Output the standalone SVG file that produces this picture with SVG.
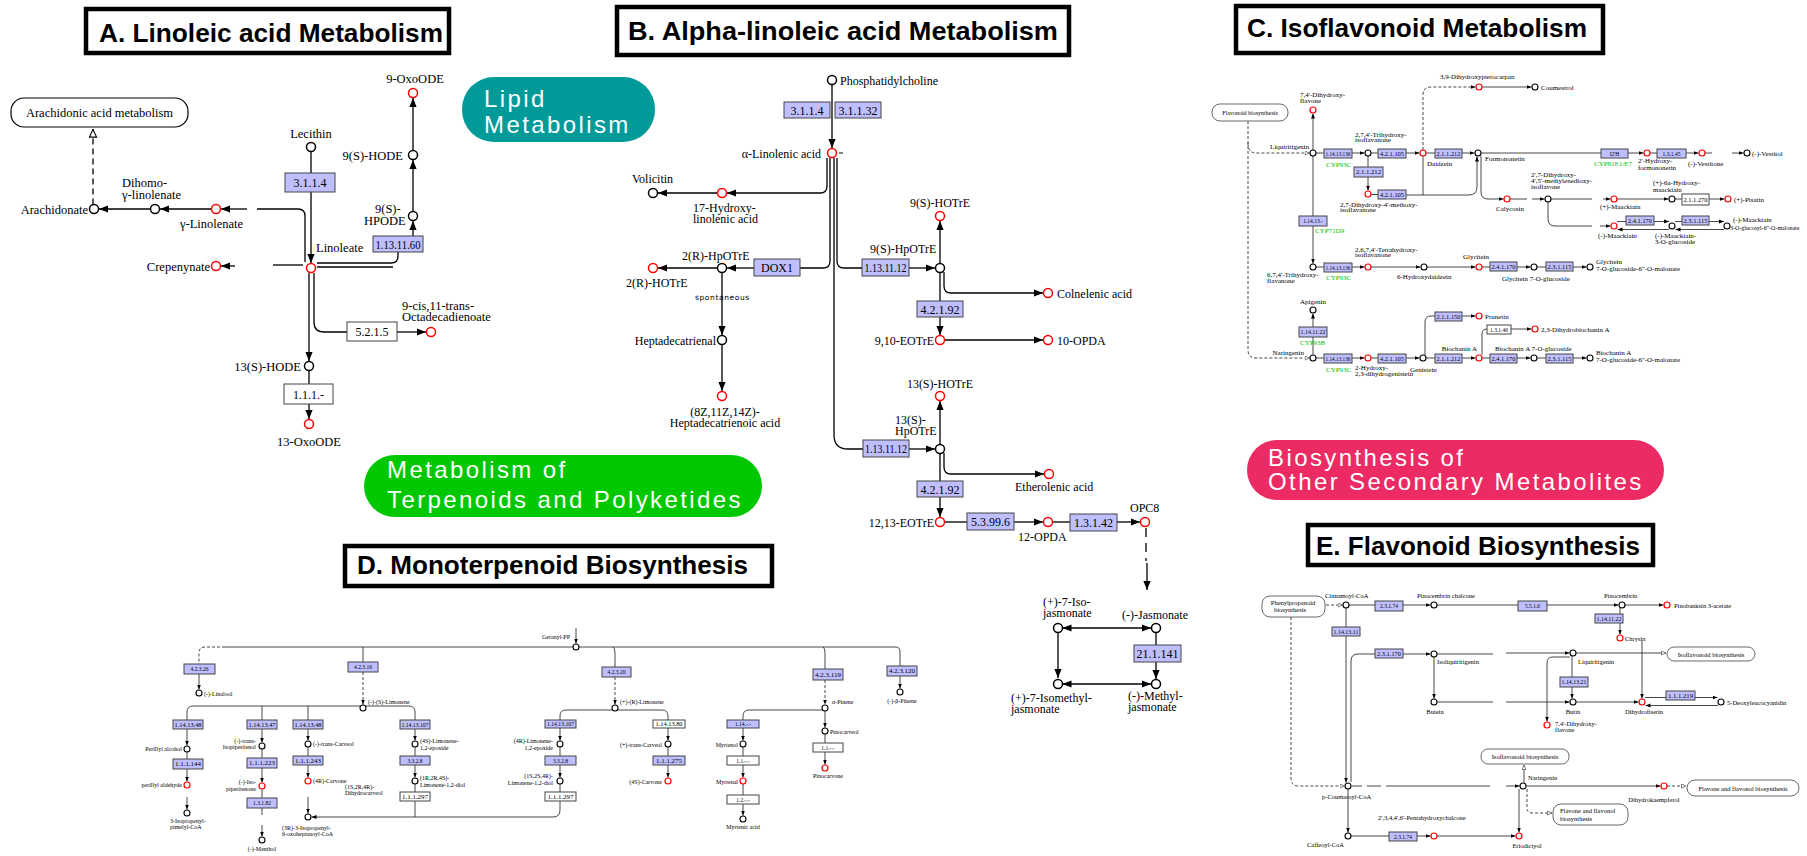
<svg xmlns="http://www.w3.org/2000/svg" width="1807" height="856" viewBox="0 0 1807 856">
<defs>
<style>
.ttl{fill:#fff;stroke:#000;stroke-width:4.5}
.tt{font-family:"Liberation Sans",Arial,sans-serif;font-weight:bold;font-size:25px;fill:#000}
.pl{font-family:"Liberation Sans",Arial,sans-serif;font-size:24px;fill:#fff;letter-spacing:2.4px}
.l{font-family:"Liberation Serif","Times New Roman",serif;fill:#000}
.a{font-size:12.5px}
.b{font-size:12px}
.c{font-size:7px}
.d{font-size:6px}
.e{font-size:6.5px}
.g{fill:#00c000}
.m{text-anchor:middle}
.r2{text-anchor:end}
.en{fill:#bfbfff;stroke:#444;stroke-width:1}
.ew{fill:#fff;stroke:#444;stroke-width:1}
.et{font-family:"Liberation Serif","Times New Roman",serif;text-anchor:middle;fill:#000}
.eb{font-size:12px}
.es{font-size:5.5px}
.k{fill:#fff;stroke:#000;stroke-width:1.5}
.r{fill:#fff;stroke:#f00;stroke-width:1.5}
.k2{fill:#fff;stroke:#000;stroke-width:1.1}
.r2c{fill:#fff;stroke:#f00;stroke-width:1.2}
.map{fill:#fff;stroke:#000;stroke-width:1.2}
.map2{fill:#fff;stroke:#444;stroke-width:0.8}
.cA path{fill:none;stroke:#000;stroke-width:1.3}
.cS path{fill:none;stroke:#333;stroke-width:0.9}
.dsh{stroke-dasharray:6 4}
.dss{stroke-dasharray:3 2}
.sp{font-family:"DejaVu Sans",sans-serif;font-size:7.5px;letter-spacing:0.6px;fill:#000}
</style>
<marker id="A" viewBox="0 0 10 8" refX="10" refY="4" markerWidth="9" markerHeight="8" markerUnits="userSpaceOnUse" orient="auto-start-reverse"><path d="M0,0L10,4L0,8z" fill="#000"/></marker>
<marker id="S" viewBox="0 0 10 8" refX="10" refY="4" markerWidth="5" markerHeight="4.5" markerUnits="userSpaceOnUse" orient="auto-start-reverse"><path d="M0,0L10,4L0,8z" fill="#000"/></marker>
<marker id="H" viewBox="0 0 10 10" refX="10" refY="5" markerWidth="9" markerHeight="9" markerUnits="userSpaceOnUse" orient="auto"><path d="M1,1L9.5,5L1,9z" fill="#fff" stroke="#000" stroke-width="1.2"/></marker>
<marker id="HS" viewBox="0 0 10 10" refX="10" refY="5" markerWidth="5" markerHeight="5" markerUnits="userSpaceOnUse" orient="auto"><path d="M1,1L9.5,5L1,9z" fill="#fff" stroke="#333" stroke-width="1.2"/></marker>
</defs>
<rect width="1807" height="856" fill="#fff"/>

<!-- ============ CONNECTORS ============ -->
<g id="connectors">
<g class="cA">
<!-- Panel A -->
<path class="dsh" d="M93,204.5V129" marker-end="url(#H)"/>
<path d="M150.5,209H99" marker-end="url(#A)"/>
<path d="M211.5,209H160" marker-end="url(#A)"/>
<path d="M247,209H221" marker-end="url(#A)"/>
<path d="M257,209H298Q305,209 305,216V262"/>
<path d="M311,151.5V173"/>
<path d="M311,192V263" marker-end="url(#A)"/>
<path d="M235,266H221" marker-end="url(#A)"/>
<path d="M273,265H303"/>
<path d="M317,263H391Q398,263 398,256V252"/>
<path d="M317,267H393"/>
<path d="M413,236V221" marker-end="url(#A)"/>
<path d="M413,211.5V160" marker-end="url(#A)"/>
<path d="M413,150.5V98" marker-end="url(#A)"/>
<path d="M309,273V361" marker-end="url(#A)"/>
<path d="M314,273V322Q314,332 324,332H347"/>
<path d="M397,332H426" marker-end="url(#A)"/>
<path d="M309,370.5V384"/>
<path d="M309,404V419" marker-end="url(#A)"/>
<!-- Panel B -->
<path d="M832,84.5V148" marker-end="url(#A)"/>
<path d="M827,158V186Q827,193 820,193H727" marker-end="url(#A)"/>
<path d="M717.5,193H658" marker-end="url(#A)"/>
<path d="M830,158V261Q830,268 823,268H800"/>
<path d="M754,268H727" marker-end="url(#A)"/>
<path d="M717.5,268H658" marker-end="url(#A)"/>
<path d="M722,272.5V335" marker-end="url(#A)"/>
<path d="M722,344.5V391" marker-end="url(#A)"/>
<path d="M834,158V435Q834,449 848,449H863"/>
<path d="M837,158V261Q837,268 844,268H862"/>
<path d="M909,268H935" marker-end="url(#A)"/>
<path d="M940,263.5V221" marker-end="url(#A)"/>
<path d="M940,272.5V301"/>
<path d="M940,317V335" marker-end="url(#A)"/>
<path d="M944,272V286Q944,293 951,293H1043" marker-end="url(#A)"/>
<path d="M944.5,340H1043" marker-end="url(#A)"/>
<path d="M909,449H935" marker-end="url(#A)"/>
<path d="M940,444.5V401" marker-end="url(#A)"/>
<path d="M940,453.5V481"/>
<path d="M940,497V517" marker-end="url(#A)"/>
<path d="M944,453V467Q944,474 951,474H1044" marker-end="url(#A)"/>
<path d="M944.5,522H967"/>
<path d="M1014,522H1043" marker-end="url(#A)"/>
<path d="M1052.5,522H1070"/>
<path d="M1117,522H1140" marker-end="url(#A)"/>
<path class="dsh" d="M1146,528V561" style="stroke-dasharray:9 6"/>
<path d="M1147,563V590" marker-end="url(#A)"/>
<path d="M1062.5,628H1151" marker-start="url(#A)" marker-end="url(#A)"/>
<path d="M1058,632.5V678" marker-end="url(#A)"/>
<path d="M1062.5,684H1151" marker-start="url(#A)" marker-end="url(#A)"/>
<path d="M1156,632.5V645"/>
<path d="M1156,662V679" marker-end="url(#A)"/>
</g>
<g class="cS">
<!-- Panel C -->
<path class="dss" d="M1248,121V350Q1248,358 1256,358H1309.5" marker-end="url(#HS)"/>
<path class="dss" d="M1248,143Q1248,153 1256,153H1309.5" marker-end="url(#HS)"/>
<path d="M1313,150V113.5" marker-end="url(#S)"/>
<path d="M1313,156V216"/>
<path d="M1313,226V263.5" marker-end="url(#S)"/>
<path d="M1316,153H1324"/>
<path d="M1352,153H1364.5" marker-end="url(#S)"/>
<path d="M1371,153H1378"/>
<path d="M1406,153H1419.5" marker-end="url(#S)"/>
<path d="M1368,156V167"/>
<path d="M1368,177V190.5" marker-end="url(#S)"/>
<path d="M1371,194.5H1378"/>
<path d="M1406,195H1469Q1477,195 1477,187V156.5" marker-end="url(#S)"/>
<path d="M1423,156V195"/>
<path class="dss" d="M1423,150V95Q1423,87 1431,87H1475.5" marker-end="url(#S)"/>
<path d="M1482,87H1531.5" marker-end="url(#S)"/>
<path d="M1426,153H1435"/>
<path d="M1462,153H1474.5" marker-end="url(#S)"/>
<path d="M1481,153H1601"/>
<path d="M1628,153H1643.5" marker-end="url(#S)"/>
<path d="M1650,153H1657"/>
<path d="M1686,153H1698.5" marker-end="url(#S)"/>
<path d="M1705,153H1712"/>
<path d="M1732,153H1743.5" marker-end="url(#S)"/>
<path d="M1481,156V192Q1481,199 1488,199H1503.5" marker-end="url(#S)"/>
<path d="M1510,199H1527"/>
<path d="M1532,199H1544.5" marker-end="url(#S)"/>
<path d="M1551,199H1592"/>
<path d="M1603,199H1610.5" marker-end="url(#S)"/>
<path d="M1617,199H1668.5" marker-end="url(#S)"/>
<path d="M1675,199H1682"/>
<path d="M1709,199H1724.5" marker-end="url(#S)"/>
<path d="M1548,202V219Q1548,226 1555,226H1592"/>
<path d="M1600,226H1610.5" marker-end="url(#S)"/>
<path d="M1617,221.5H1669" marker-end="url(#S)"/>
<path d="M1669,229.5H1617.5" marker-end="url(#S)"/>
<path d="M1675,221.5H1724" marker-end="url(#S)"/>
<path d="M1724,229.5H1675.5" marker-end="url(#S)"/>
<path d="M1316,267H1324"/>
<path d="M1352,267H1364.5" marker-end="url(#S)"/>
<path d="M1371,267H1420.5" marker-end="url(#S)"/>
<path d="M1427,267H1475.5" marker-end="url(#S)"/>
<path d="M1482,267H1490"/>
<path d="M1517,267H1530.5" marker-end="url(#S)"/>
<path d="M1537,267H1546"/>
<path d="M1573,267H1586.5" marker-end="url(#S)"/>
<path d="M1313,327V313.5" marker-end="url(#S)"/>
<path d="M1313,337V354.5"/>
<path d="M1316,358H1324"/>
<path d="M1352,358H1364.5" marker-end="url(#S)"/>
<path d="M1371,358H1378"/>
<path d="M1406,358H1419.5" marker-end="url(#S)"/>
<path d="M1425,355V322Q1425,316 1431,316H1435"/>
<path d="M1462,316H1475.5" marker-end="url(#S)"/>
<path d="M1426,358H1435"/>
<path d="M1462,358H1475.5" marker-end="url(#S)"/>
<path d="M1482,355V334Q1482,329 1487,329"/>
<path d="M1511,329H1531.5" marker-end="url(#S)"/>
<path d="M1482,358H1490"/>
<path d="M1517,358H1530.5" marker-end="url(#S)"/>
<path d="M1537,358H1546"/>
<path d="M1573,358H1586.5" marker-end="url(#S)"/>
<!-- Panel D -->
<path d="M225,647H896Q900,647 900,652V666"/>
<path class="dss" d="M225,647H205Q199,647 199,653V664"/>
<path d="M576,628V643.5" marker-end="url(#S)"/>
<path d="M199,674V689.5" marker-end="url(#S)"/>
<path d="M363,647V662"/>
<path class="dss" d="M363,672V704.5" marker-end="url(#S)"/>
<path d="M187,720V712Q187,706 193,706H409Q415,706 415,712V720"/>
<path d="M262,706V720"/>
<path d="M308,706V720"/>
<path d="M187,729V745.5" marker-end="url(#S)"/>
<path d="M187,752V759"/>
<path d="M187,769V781.5" marker-end="url(#S)"/>
<path d="M187,797V809.5" marker-end="url(#S)"/>
<path d="M262,729V742.5" marker-end="url(#S)"/>
<path d="M262,749V758"/>
<path d="M262,768V782.5" marker-end="url(#S)"/>
<path d="M262,789V798"/>
<path d="M262,808V815"/>
<path d="M262,825V836.5" marker-end="url(#S)"/>
<path d="M308,729V740.5" marker-end="url(#S)"/>
<path d="M308,747V756"/>
<path d="M308,765V777.5" marker-end="url(#S)"/>
<path d="M308,797V813.5" marker-end="url(#S)"/>
<path d="M560,801V810Q560,817 553,817H311.5" marker-end="url(#S)"/>
<path d="M415,729V740.5" marker-end="url(#S)"/>
<path d="M415,747V756"/>
<path d="M415,765V777.5" marker-end="url(#S)"/>
<path d="M415,784V792"/>
<path d="M415,801V817"/>
<path d="M613,647Q615,648 615,653V667"/>
<path class="dss" d="M615,677V704.5" marker-end="url(#S)"/>
<path d="M560,720V716Q560,710 566,710H662Q668,710 668,716V720"/>
<path d="M560,728V740.5" marker-end="url(#S)"/>
<path d="M560,747V756"/>
<path d="M560,765V777.5" marker-end="url(#S)"/>
<path d="M560,784V792"/>
<path d="M668,728V740.5" marker-end="url(#S)"/>
<path d="M668,747V756"/>
<path d="M668,765V777.5" marker-end="url(#S)"/>
<path d="M823,647Q825,648 825,653V669"/>
<path class="dss" d="M825,680V704.5" marker-end="url(#S)"/>
<path d="M743,720V716Q743,710 749,710H822"/>
<path d="M743,728V740.5" marker-end="url(#S)"/>
<path d="M743,747V756"/>
<path d="M743,765V777.5" marker-end="url(#S)"/>
<path d="M743,784V795"/>
<path d="M743,804V815.5" marker-end="url(#S)"/>
<path d="M825,711V727.5" marker-end="url(#S)"/>
<path d="M825,734V743"/>
<path d="M825,752V764.5" marker-end="url(#S)"/>
<path d="M900,676V688.5" marker-end="url(#S)"/>
<!-- Panel E -->
<path class="dss" d="M1326,605H1342.5" marker-end="url(#HS)"/>
<path d="M1349,605H1375"/>
<path d="M1403,605H1430.5" marker-end="url(#S)"/>
<path d="M1437,605H1518"/>
<path d="M1547,605H1618.5" marker-end="url(#S)"/>
<path d="M1625,605H1663.5" marker-end="url(#S)"/>
<path d="M1620,608V614"/>
<path d="M1620,623V634.5" marker-end="url(#S)"/>
<path d="M1642,641V698.5" marker-end="url(#S)"/>
<path d="M1346,608V627"/>
<path d="M1346,636V782.5" marker-end="url(#S)"/>
<path d="M1351,782V661Q1351,654 1358,654H1375"/>
<path d="M1403,654H1430.5" marker-end="url(#S)"/>
<path d="M1437,654H1493"/>
<path d="M1506,653H1569.5" marker-end="url(#S)"/>
<path d="M1576,653H1666" marker-end="url(#HS)"/>
<path d="M1434,657V698.5" marker-end="url(#S)"/>
<path d="M1437,702H1493"/>
<path d="M1506,702H1569.5" marker-end="url(#S)"/>
<path d="M1572,656V677"/>
<path d="M1572,687V698.5" marker-end="url(#S)"/>
<path d="M1570,657H1553Q1547,657 1547,663V721.5" marker-end="url(#S)"/>
<path d="M1576,702H1638.5" marker-end="url(#S)"/>
<path d="M1645,697.5H1666"/>
<path d="M1695,697.5H1717.5" marker-end="url(#S)"/>
<path d="M1718,705.5H1645.5" marker-end="url(#S)"/>
<path d="M1524,782.5V765" marker-end="url(#HS)"/>
<path d="M1352,786H1362M1367,786H1381M1386,786H1490"/>
<path d="M1506,786H1519.5" marker-end="url(#S)"/>
<path d="M1526.5,786H1660.5" marker-end="url(#S)"/>
<path class="dss" d="M1667,786H1686" marker-end="url(#HS)"/>
<path class="dss" d="M1527,789V808Q1527,813 1532,813H1552" marker-end="url(#HS)"/>
<path d="M1519,789V832.5" marker-end="url(#S)"/>
<path class="dss" d="M1291,617V778Q1291,786 1299,786H1344.5" marker-end="url(#HS)"/>
<path d="M1348,789V832.5" marker-end="url(#S)"/>
<path d="M1351,836H1389"/>
<path d="M1417,836H1430.5" marker-end="url(#S)"/>
<path d="M1437,836H1515.5" marker-end="url(#S)"/>
</g>
</g>

<!-- ============ TITLES & CATEGORY PILLS ============ -->
<g id="titleA"><rect class="ttl" x="86" y="9" width="363" height="44"/><text class="tt" x="99" y="42" textLength="344" lengthAdjust="spacingAndGlyphs">A. Linoleic acid Metabolism</text></g>
<g id="titleB"><rect class="ttl" x="617" y="7" width="452" height="48"/><text class="tt" x="628" y="40" textLength="430" lengthAdjust="spacingAndGlyphs">B. Alpha-linoleic acid Metabolism</text></g>
<g id="titleC"><rect class="ttl" x="1236" y="6" width="367" height="47"/><text class="tt" x="1247" y="37" textLength="340" lengthAdjust="spacingAndGlyphs">C. Isoflavonoid Metabolism</text></g>
<g id="titleD"><rect class="ttl" x="345" y="546" width="427" height="40"/><text class="tt" x="357" y="574" textLength="391" lengthAdjust="spacingAndGlyphs">D. Monoterpenoid Biosynthesis</text></g>
<g id="titleE"><rect class="ttl" x="1308" y="525" width="345" height="40"/><text class="tt" x="1316" y="555" textLength="324" lengthAdjust="spacingAndGlyphs">E. Flavonoid Biosynthesis</text></g>
<g id="pill-lipid"><rect x="462" y="77" width="193" height="65" rx="32" fill="#009a99"/><text class="pl" x="484" y="107">Lipid</text><text class="pl" x="484" y="133">Metabolism</text></g>
<g id="pill-terpenoid"><rect x="364" y="455" width="398" height="62" rx="31" fill="#00c800"/><text class="pl" x="387" y="478">Metabolism of</text><text class="pl" x="387" y="508">Terpenoids and Polyketides</text></g>
<g id="pill-secondary"><rect x="1247" y="440" width="417" height="60" rx="30" fill="#ec2a63"/><text class="pl" x="1268" y="466">Biosynthesis of</text><text class="pl" x="1268" y="490">Other Secondary Metabolites</text></g>

<!-- ============ PANEL A NODES ============ -->
<g id="a-map-arachidonic"><rect class="map" x="11" y="98" width="177" height="29" rx="13"/><text class="l a m" x="99.5" y="117">Arachidonic acid metabolism</text></g>
<g id="a-arachidonate"><circle class="k" cx="94" cy="209" r="4.5"/><text class="l a r2" x="88" y="214">Arachidonate</text></g>
<g id="a-dihomo"><circle class="k" cx="155" cy="209" r="4.5"/><text class="l a" x="122" y="187">Dihomo-</text><text class="l a" x="122" y="199">γ-linolenate</text></g>
<g id="a-glinolenate"><circle class="r" cx="216" cy="209" r="4.5"/><text class="l a" x="180" y="228">γ-Linolenate</text></g>
<g id="a-lecithin"><circle class="k" cx="311" cy="147" r="4.5"/><text class="l a m" x="311" y="138">Lecithin</text></g>
<g id="a-e3114"><rect class="en" x="285" y="173" width="50" height="19"/><text class="et eb" x="310" y="187">3.1.1.4</text></g>
<g id="a-linoleate"><circle class="r" cx="311" cy="268" r="4.5"/><text class="l a" x="316" y="252">Linoleate</text></g>
<g id="a-crepenynate"><circle class="r" cx="216" cy="266" r="4.5"/><text class="l a r2" x="210" y="271">Crepenynate</text></g>
<g id="a-e1131160"><rect class="en" x="373" y="236" width="50" height="16"/><text class="et eb" x="398" y="248.5" textLength="45" lengthAdjust="spacingAndGlyphs">1.13.11.60</text></g>
<g id="a-9shpode"><circle class="k" cx="413" cy="216" r="4.5"/><text class="l a" x="375" y="213">9(S)-</text><text class="l a" x="364" y="225">HPODE</text></g>
<g id="a-9shode"><circle class="k" cx="413" cy="155" r="4.5"/><text class="l a r2" x="403" y="160">9(S)-HODE</text></g>
<g id="a-9oxoode"><circle class="r" cx="413" cy="93" r="4.5"/><text class="l a m" x="415" y="83">9-OxoODE</text></g>
<g id="a-e5215"><rect class="ew" x="347" y="322" width="50" height="19"/><text class="et eb" x="372" y="336">5.2.1.5</text></g>
<g id="a-octadecadienoate"><circle class="r" cx="431" cy="332" r="4.5"/><text class="l a" x="402" y="310">9-cis,11-trans-</text><text class="l a" x="402" y="321">Octadecadienoate</text></g>
<g id="a-13shode"><circle class="k" cx="309" cy="366" r="4.5"/><text class="l a r2" x="301" y="371">13(S)-HODE</text></g>
<g id="a-e111"><rect class="ew" x="284" y="384" width="49" height="20"/><text class="et eb" x="308.5" y="398.5">1.1.1.-</text></g>
<g id="a-13oxoode"><circle class="r" cx="309" cy="424" r="4.5"/><text class="l a m" x="309" y="446">13-OxoODE</text></g>

<!-- ============ PANEL B NODES ============ -->
<g id="b-pc"><circle class="k" cx="832" cy="80" r="4.5"/><text class="l b" x="840" y="85">Phosphatidylcholine</text></g>
<g id="b-e3114"><rect class="en" x="784" y="102" width="46" height="16"/><text class="et eb" x="807" y="114.5">3.1.1.4</text></g>
<g id="b-e31132"><rect class="en" x="835" y="102" width="46" height="16"/><text class="et eb" x="858" y="114.5">3.1.1.32</text></g>
<g id="b-ala"><circle class="r" cx="832" cy="153" r="4.5"/><text class="l b r2" x="821" y="158">α-Linolenic acid</text><path d="M839,153H843" stroke="#000" stroke-width="1"/></g>
<g id="b-17h"><circle class="r" cx="722" cy="193" r="4.5"/><text class="l b" x="693" y="212">17-Hydroxy-</text><text class="l b" x="693" y="223">linolenic acid</text></g>
<g id="b-volicitin"><circle class="k" cx="653" cy="193" r="4.5"/><text class="l b" x="632" y="183">Volicitin</text></g>
<g id="b-dox1"><rect class="en" x="754" y="259" width="46" height="17"/><text class="et eb" x="777" y="272">DOX1</text></g>
<g id="b-2rhpotre"><circle class="k" cx="722" cy="268" r="4.5"/><text class="l b" x="682" y="260">2(R)-HpOTrE</text></g>
<g id="b-2rhotre"><circle class="r" cx="653" cy="268" r="4.5"/><text class="l b" x="626" y="287">2(R)-HOTrE</text></g>
<g id="b-spontaneous"><text class="sp" x="695" y="300">spontaneous</text></g>
<g id="b-heptadecatrienal"><circle class="k" cx="722" cy="340" r="4.5"/><text class="l b r2" x="716" y="345">Heptadecatrienal</text></g>
<g id="b-heptadecatrienoic"><circle class="r" cx="722" cy="396" r="4.5"/><text class="l b m" x="725" y="416">(8Z,11Z,14Z)-</text><text class="l b m" x="725" y="427">Heptadecatrienoic acid</text></g>
<g id="b-e1131112a"><rect class="en" x="862" y="259" width="47" height="17"/><text class="et eb" x="885.5" y="272" textLength="42" lengthAdjust="spacingAndGlyphs">1.13.11.12</text></g>
<g id="b-9shpotre"><circle class="k" cx="940" cy="268" r="4.5"/><text class="l b" x="870" y="253">9(S)-HpOTrE</text></g>
<g id="b-9shotre"><circle class="r" cx="940" cy="216" r="4.5"/><text class="l b m" x="940" y="207">9(S)-HOTrE</text></g>
<g id="b-e42192a"><rect class="en" x="917" y="301" width="46" height="16"/><text class="et eb" x="940" y="313.5">4.2.1.92</text></g>
<g id="b-910eotre"><circle class="r" cx="940" cy="340" r="4.5"/><text class="l b r2" x="934" y="345">9,10-EOTrE</text></g>
<g id="b-colnelenic"><circle class="r" cx="1048" cy="293" r="4.5"/><text class="l b" x="1057" y="298">Colnelenic acid</text></g>
<g id="b-10opda"><circle class="r" cx="1048" cy="340" r="4.5"/><text class="l b" x="1057" y="345">10-OPDA</text></g>
<g id="b-e1131112b"><rect class="en" x="863" y="440" width="46" height="17"/><text class="et eb" x="886" y="453" textLength="42" lengthAdjust="spacingAndGlyphs">1.13.11.12</text></g>
<g id="b-13shpotre"><circle class="k" cx="940" cy="449" r="4.5"/><text class="l b" x="895" y="424">13(S)-</text><text class="l b" x="895" y="435">HpOTrE</text></g>
<g id="b-13shotre"><circle class="r" cx="940" cy="396" r="4.5"/><text class="l b m" x="940" y="388">13(S)-HOTrE</text></g>
<g id="b-e42192b"><rect class="en" x="917" y="481" width="46" height="16"/><text class="et eb" x="940" y="493.5">4.2.1.92</text></g>
<g id="b-1213eotre"><circle class="r" cx="940" cy="522" r="4.5"/><text class="l b r2" x="934" y="527">12,13-EOTrE</text></g>
<g id="b-etherolenic"><circle class="r" cx="1049" cy="474" r="4.5"/><text class="l b" x="1015" y="491">Etherolenic acid</text></g>
<g id="b-e53996"><rect class="en" x="967" y="513" width="47" height="17"/><text class="et eb" x="990.5" y="526">5.3.99.6</text></g>
<g id="b-12opda"><circle class="r" cx="1048" cy="522" r="4.5"/><text class="l b" x="1018" y="541">12-OPDA</text></g>
<g id="b-e13142"><rect class="en" x="1070" y="514" width="47" height="17"/><text class="et eb" x="1093.5" y="527">1.3.1.42</text></g>
<g id="b-opc8"><circle class="r" cx="1145" cy="522" r="4.5"/><text class="l b" x="1130" y="512">OPC8</text></g>
<g id="b-jasmonate"><circle class="k" cx="1156" cy="628" r="4.5"/><text class="l b m" x="1155" y="619">(-)-Jasmonate</text></g>
<g id="b-e211141"><rect class="en" x="1134" y="645" width="47" height="17"/><text class="et eb" x="1157.5" y="658">21.1.141</text></g>
<g id="b-mejasmonate"><circle class="k" cx="1156" cy="684" r="4.5"/><text class="l b" x="1128" y="700">(-)-Methyl-</text><text class="l b" x="1128" y="711">jasmonate</text></g>
<g id="b-isojasmonate"><circle class="k" cx="1058" cy="628" r="4.5"/><text class="l b" x="1043" y="606">(+)-7-Iso-</text><text class="l b" x="1043" y="617">jasmonate</text></g>
<g id="b-isomejasmonate"><circle class="k" cx="1058" cy="684" r="4.5"/><text class="l b" x="1011" y="702">(+)-7-Isomethyl-</text><text class="l b" x="1011" y="713">jasmonate</text></g>

<!-- ============ PANEL C NODES ============ -->
<g id="c-map-flavonoid"><rect class="map2" x="1212" y="104" width="76" height="17" rx="8"/><text class="l d m" x="1250" y="115">Flavonoid biosynthesis</text></g>
<g id="c-liquiritigenin"><circle class="k2" cx="1313" cy="153" r="3"/><text class="l c r2" x="1309" y="149">Liquiritigenin</text></g>
<g id="c-74dhf"><circle class="r2c" cx="1313" cy="110" r="3"/><text class="l c" x="1300" y="97">7,4'-Dihydroxy-</text><text class="l c" x="1300" y="103">flavone</text></g>
<g id="c-e11413136a"><rect class="en" x="1324" y="149" width="28" height="9"/><text class="et es" x="1338" y="155.5" textLength="25" lengthAdjust="spacingAndGlyphs">1.14.13.136</text><text class="l c g" x="1326" y="167">CYP93C</text></g>
<g id="c-274thi"><circle class="k2" cx="1368" cy="153" r="3"/><text class="l c" x="1355" y="137">2,7,4'-Trihydroxy-</text><text class="l c" x="1355" y="142">isoflavanone</text></g>
<g id="c-e421105a"><rect class="en" x="1378" y="149" width="28" height="9"/><text class="et es" x="1392" y="155.5" textLength="24" lengthAdjust="spacingAndGlyphs">4.2.1.105</text></g>
<g id="c-daidzein"><circle class="r2c" cx="1423" cy="153" r="3"/><text class="l c" x="1427" y="166">Daidzein</text></g>
<g id="c-e211212a"><rect class="en" x="1354" y="167" width="29" height="10"/><text class="et es" x="1368.5" y="174" textLength="25" lengthAdjust="spacingAndGlyphs">2.1.1.212</text></g>
<g id="c-27d4m"><circle class="r2c" cx="1368" cy="194" r="3"/><text class="l c" x="1340" y="207">2,7-Dihydroxy-4'-methoxy-</text><text class="l c" x="1340" y="212">isoflavanone</text></g>
<g id="c-e421105b"><rect class="en" x="1378" y="190" width="28" height="9"/><text class="et es" x="1392" y="196.5" textLength="24" lengthAdjust="spacingAndGlyphs">4.2.1.105</text></g>
<g id="c-e11413"><rect class="en" x="1299" y="216" width="28" height="10"/><text class="et es" x="1313" y="223">1.14.13.-</text><text class="l c g" x="1315" y="233">CYP71D9</text></g>
<g id="c-formononetin"><circle class="k2" cx="1478" cy="153" r="3"/><text class="l c" x="1485" y="161">Formononetin</text></g>
<g id="c-39dhp"><circle class="r2c" cx="1479" cy="87" r="3"/><text class="l c" x="1440" y="79">3,9-Dihydroxypterocarpan</text></g>
<g id="c-coumestrol"><circle class="k2" cx="1535" cy="87" r="3"/><text class="l c" x="1541" y="90">Coumestrol</text></g>
<g id="c-e211212b"><rect class="en" x="1435" y="149" width="27" height="9"/><text class="et es" x="1448.5" y="155.5" textLength="24" lengthAdjust="spacingAndGlyphs">2.1.1.212</text></g>
<g id="c-ei2h"><rect class="en" x="1601" y="149" width="27" height="9"/><text class="et es" x="1614.5" y="155.5">I2'H</text><text class="l c g" x="1594" y="166">CYP81E1/E7</text></g>
<g id="c-2hf"><circle class="r2c" cx="1647" cy="153" r="3"/><text class="l c" x="1638" y="163">2'-Hydroxy-</text><text class="l c" x="1638" y="170">formononetin</text></g>
<g id="c-e13145"><rect class="en" x="1657" y="149" width="29" height="9"/><text class="et es" x="1671.5" y="155.5">1.3.1.45</text></g>
<g id="c-vestitone"><circle class="r2c" cx="1702" cy="153" r="3"/><text class="l c" x="1688" y="166">(-)-Vestitone</text></g>
<g id="c-vestitol"><circle class="k2" cx="1747" cy="153" r="3"/><text class="l c" x="1752" y="156">(-)-Vestitol</text></g>
<g id="c-calycosin"><circle class="r2c" cx="1507" cy="199" r="3"/><text class="l c" x="1496" y="211">Calycosin</text></g>
<g id="c-27dmi"><circle class="k2" cx="1548" cy="199" r="3"/><text class="l c" x="1531" y="177">2',7-Dihydroxy-</text><text class="l c" x="1531" y="183">4',5'-methylenedioxy-</text><text class="l c" x="1531" y="189">isoflavone</text></g>
<g id="c-pmaackiain"><circle class="r2c" cx="1614" cy="199" r="3"/><text class="l c" x="1600" y="209">(+)-Maackiain</text></g>
<g id="c-6ahm"><circle class="k2" cx="1672" cy="199" r="3"/><text class="l c" x="1653" y="185">(+)-6a-Hydroxy-</text><text class="l c" x="1653" y="192">maackiain</text></g>
<g id="c-e211270"><rect class="ew" x="1682" y="194" width="27" height="11"/><text class="et es" x="1695.5" y="201.5" textLength="24" lengthAdjust="spacingAndGlyphs">2.1.1.270</text></g>
<g id="c-pisatin"><circle class="r2c" cx="1728" cy="199" r="3"/><text class="l c" x="1734" y="202">(+)-Pisatin</text></g>
<g id="c-mmaackiain"><circle class="r2c" cx="1614" cy="226" r="3"/><text class="l c" x="1598" y="238">(-)-Maackiain</text></g>
<g id="c-e241170a"><rect class="en" x="1626" y="216" width="28" height="9"/><text class="et es" x="1640" y="222.5" textLength="24" lengthAdjust="spacingAndGlyphs">2.4.1.170</text></g>
<g id="c-mmg"><circle class="k2" cx="1672" cy="226" r="3"/><text class="l c" x="1655" y="238">(-)-Maackiain-</text><text class="l c" x="1655" y="244">3-O-glucoside</text></g>
<g id="c-e231115a"><rect class="en" x="1682" y="216" width="27" height="9"/><text class="et es" x="1695.5" y="222.5" textLength="24" lengthAdjust="spacingAndGlyphs">2.3.1.115</text></g>
<g id="c-mmgm"><circle class="k2" cx="1727" cy="226" r="3"/><text class="l c" x="1733" y="222">(-)-Maackiain</text><text class="l d" x="1730" y="230">3-O-glucosyl-6"-O-malonate</text></g>
<g id="c-674thf"><circle class="k2" cx="1313" cy="267" r="3"/><text class="l c" x="1267" y="277">6,7,4'-Trihydroxy-</text><text class="l c" x="1267" y="283">flavanone</text></g>
<g id="c-e11413136b"><rect class="en" x="1324" y="263" width="28" height="9"/><text class="et es" x="1338" y="269.5" textLength="25" lengthAdjust="spacingAndGlyphs">1.14.13.136</text><text class="l c g" x="1326" y="280">CYP93C</text></g>
<g id="c-2674thi"><circle class="r2c" cx="1368" cy="267" r="3"/><text class="l c" x="1355" y="252">2,6,7,4'-Tetrahydroxy-</text><text class="l c" x="1355" y="257">isoflavanone</text></g>
<g id="c-6hdaidzein"><circle class="k2" cx="1424" cy="267" r="3"/><text class="l c" x="1397" y="279">6-Hydroxydaidzein</text></g>
<g id="c-glycitein"><circle class="r2c" cx="1479" cy="267" r="3"/><text class="l c" x="1463" y="259">Glycitein</text></g>
<g id="c-e241170b"><rect class="en" x="1490" y="262" width="27" height="9"/><text class="et es" x="1503.5" y="268.5" textLength="24" lengthAdjust="spacingAndGlyphs">2.4.1.170</text></g>
<g id="c-glyc7g"><circle class="k2" cx="1534" cy="267" r="3"/><text class="l c" x="1502" y="281">Glycitein 7-O-glucoside</text></g>
<g id="c-e231115b"><rect class="en" x="1546" y="262" width="27" height="9"/><text class="et es" x="1559.5" y="268.5" textLength="24" lengthAdjust="spacingAndGlyphs">2.3.1.115</text></g>
<g id="c-glyc7gm"><circle class="k2" cx="1590" cy="267" r="3"/><text class="l c" x="1596" y="264">Glycitein</text><text class="l c" x="1596" y="271">7-O-glucoside-6"-O-malonate</text></g>
<g id="c-apigenin"><circle class="k2" cx="1313" cy="310" r="3"/><text class="l c m" x="1313" y="304">Apigenin</text></g>
<g id="c-e1141122"><rect class="en" x="1299" y="327" width="28" height="10"/><text class="et es" x="1313" y="334" textLength="25" lengthAdjust="spacingAndGlyphs">1.14.11.22</text><text class="l c g" x="1300" y="345">CYP93B</text></g>
<g id="c-naringenin"><circle class="k2" cx="1313" cy="358" r="3"/><text class="l c r2" x="1304" y="355">Naringenin</text></g>
<g id="c-e11413136c"><rect class="en" x="1324" y="354" width="28" height="9"/><text class="et es" x="1338" y="360.5" textLength="25" lengthAdjust="spacingAndGlyphs">1.14.13.136</text><text class="l c g" x="1326" y="372">CYP93C</text></g>
<g id="c-2hdg"><circle class="r2c" cx="1368" cy="358" r="3"/><text class="l c" x="1355" y="370">2-Hydroxy-</text><text class="l c" x="1355" y="376">2,3-dihydrogenistein</text></g>
<g id="c-e421105c"><rect class="en" x="1378" y="354" width="28" height="9"/><text class="et es" x="1392" y="360.5" textLength="24" lengthAdjust="spacingAndGlyphs">4.2.1.105</text></g>
<g id="c-genistein"><circle class="k2" cx="1423" cy="358" r="3"/><text class="l c" x="1410" y="372">Genistein</text></g>
<g id="c-e211150"><rect class="en" x="1435" y="312" width="27" height="9"/><text class="et es" x="1448.5" y="318.5" textLength="24" lengthAdjust="spacingAndGlyphs">2.1.1.150</text></g>
<g id="c-prunetin"><circle class="r2c" cx="1479" cy="316" r="3"/><text class="l c" x="1485" y="319">Prunetin</text></g>
<g id="c-e211212c"><rect class="en" x="1435" y="354" width="27" height="9"/><text class="et es" x="1448.5" y="360.5" textLength="24" lengthAdjust="spacingAndGlyphs">2.1.1.212</text></g>
<g id="c-biochanina"><circle class="r2c" cx="1479" cy="358" r="3"/><text class="l c r2" x="1477" y="351">Biochanin A</text></g>
<g id="c-e13146"><rect class="ew" x="1487" y="325" width="24" height="9"/><text class="et es" x="1499" y="331.5">1.3.1.46</text></g>
<g id="c-dhbiochanin"><circle class="r2c" cx="1535" cy="329" r="3"/><text class="l c" x="1541" y="332">2,3-Dihydrobiochanin A</text></g>
<g id="c-e241170c"><rect class="en" x="1490" y="354" width="27" height="9"/><text class="et es" x="1503.5" y="360.5" textLength="24" lengthAdjust="spacingAndGlyphs">2.4.1.170</text></g>
<g id="c-bio7g"><circle class="k2" cx="1534" cy="358" r="3"/><text class="l c" x="1495" y="351">Biochanin A 7-O-glucoside</text></g>
<g id="c-e231115c"><rect class="en" x="1546" y="354" width="27" height="9"/><text class="et es" x="1559.5" y="360.5" textLength="24" lengthAdjust="spacingAndGlyphs">2.3.1.115</text></g>
<g id="c-bio7gm"><circle class="k2" cx="1590" cy="358" r="3"/><text class="l c" x="1596" y="355">Biochanin A</text><text class="l c" x="1596" y="362">7-O-glucoside-6"-O-malonate</text></g>

<!-- ============ PANEL D NODES ============ -->
<g id="d-geranylpp"><circle class="k2" cx="576" cy="647" r="3"/><text class="l d r2" x="570" y="639">Geranyl-PP</text></g>
<g id="d-e42326"><rect class="en" x="184" y="664" width="31" height="10"/><text class="et es" x="199.5" y="671">4.2.3.26</text></g>
<g id="d-linalool"><circle class="k2" cx="199" cy="693" r="3"/><text class="l d" x="204" y="696">(-)-Linalool</text></g>
<g id="d-e42316"><rect class="en" x="348" y="662" width="30" height="10"/><text class="et es" x="363" y="669">4.2.3.16</text></g>
<g id="d-slimonene"><circle class="k2" cx="363" cy="708" r="3"/><text class="l d" x="368" y="704">(-)-(S)-Limonene</text></g>
<g id="d-e1141348a"><rect class="en" x="173" y="720" width="30" height="9"/><text class="et es" x="188" y="726.5" textLength="27" lengthAdjust="spacingAndGlyphs">1.14.13.48</text></g>
<g id="d-perillylalc"><circle class="k2" cx="187" cy="749" r="3"/><text class="l d r2" x="182" y="751">Perillyl alcohol</text></g>
<g id="d-e111144"><rect class="en" x="173" y="759" width="30" height="10"/><text class="et es" x="188" y="766" textLength="26" lengthAdjust="spacingAndGlyphs">1.1.1.144</text></g>
<g id="d-perillylald"><circle class="r2c" cx="187" cy="785" r="3"/><text class="l d r2" x="182" y="787">perillyl aldehyde</text></g>
<g id="d-ippcoa"><circle class="k2" cx="187" cy="813" r="3"/><text class="l d" x="170" y="823">3-Isopropenyl-</text><text class="l d" x="170" y="829">pimelyl-CoA</text></g>
<g id="d-e1141347"><rect class="en" x="247" y="720" width="30" height="9"/><text class="et es" x="262" y="726.5" textLength="27" lengthAdjust="spacingAndGlyphs">1.14.13.47</text></g>
<g id="d-isopiperitenol"><circle class="k2" cx="262" cy="746" r="3"/><text class="l d r2" x="256" y="743">(-)-trans-</text><text class="l d r2" x="256" y="749">Isopiperitenol</text></g>
<g id="d-e111223"><rect class="en" x="247" y="758" width="30" height="10"/><text class="et es" x="262" y="765" textLength="26" lengthAdjust="spacingAndGlyphs">1.1.1.223</text></g>
<g id="d-isopiperitenone"><circle class="r2c" cx="262" cy="786" r="3"/><text class="l d r2" x="256" y="784">(-)-Iso-</text><text class="l d r2" x="256" y="791">piperitenone</text></g>
<g id="d-e13182"><rect class="en" x="247" y="798" width="30" height="10"/><text class="et es" x="262" y="805">1.3.1.82</text></g>
<g id="d-menthol"><circle class="k2" cx="262" cy="840" r="3"/><text class="l d m" x="262" y="851">(-)-Menthol</text></g>
<g id="d-e1141348b"><rect class="en" x="293" y="720" width="30" height="9"/><text class="et es" x="308" y="726.5" textLength="27" lengthAdjust="spacingAndGlyphs">1.14.13.48</text></g>
<g id="d-tcarveol"><circle class="k2" cx="308" cy="744" r="3"/><text class="l d" x="313" y="746">(-)-trans-Carveol</text></g>
<g id="d-e111243"><rect class="en" x="293" y="756" width="30" height="9"/><text class="et es" x="308" y="762.5" textLength="26" lengthAdjust="spacingAndGlyphs">1.1.1.243</text></g>
<g id="d-4rcarvone"><circle class="r2c" cx="308" cy="781" r="3"/><text class="l d" x="313" y="783">(4R)-Carvone</text></g>
<g id="d-ioxcoa"><circle class="k2" cx="308" cy="817" r="3"/><text class="l d" x="282" y="830">(3R)-3-Isopropenyl-</text><text class="l d" x="282" y="836">6-oxoheptanoyl-CoA</text></g>
<g id="d-dihydrocarveol"><text class="l d" x="345" y="789">(1S,2R,4R)-</text><text class="l d" x="345" y="795">Dihydrocarveol</text></g>
<g id="d-e11413107a"><rect class="en" x="400" y="720" width="30" height="9"/><text class="et es" x="415" y="726.5" textLength="27" lengthAdjust="spacingAndGlyphs">1.14.13.107</text></g>
<g id="d-4slepox"><circle class="k2" cx="415" cy="744" r="3"/><text class="l d" x="420" y="743">(4S)-Limonene-</text><text class="l d" x="420" y="750">1,2-epoxide</text></g>
<g id="d-e3328a"><rect class="en" x="400" y="756" width="30" height="9"/><text class="et es" x="415" y="762.5">3.3.2.8</text></g>
<g id="d-sldiol"><circle class="k2" cx="415" cy="781" r="3"/><text class="l d" x="420" y="780">(1R,2R,4S)-</text><text class="l d" x="420" y="787">Limonene-1,2-diol</text></g>
<g id="d-e111297a"><rect class="ew" x="400" y="792" width="30" height="9"/><text class="et es" x="415" y="798.5" textLength="26" lengthAdjust="spacingAndGlyphs">1.1.1.297</text></g>
<g id="d-e42320"><rect class="en" x="602" y="667" width="29" height="10"/><text class="et es" x="616.5" y="674">4.2.3.20</text></g>
<g id="d-rlimonene"><circle class="k2" cx="615" cy="708" r="3"/><text class="l d" x="620" y="704">(+)-(R)-Limonene</text></g>
<g id="d-e11413107b"><rect class="en" x="545" y="720" width="31" height="8"/><text class="et es" x="560.5" y="726" textLength="27" lengthAdjust="spacingAndGlyphs">1.14.13.107</text></g>
<g id="d-4rlepox"><circle class="k2" cx="560" cy="744" r="3"/><text class="l d r2" x="553" y="743">(4R)-Limonene-</text><text class="l d r2" x="553" y="750">1,2-epoxide</text></g>
<g id="d-e3328b"><rect class="en" x="545" y="756" width="31" height="9"/><text class="et es" x="560.5" y="762.5">3.3.2.8</text></g>
<g id="d-rldiol"><circle class="k2" cx="560" cy="781" r="3"/><text class="l d r2" x="553" y="778">(1S,2S,4R)-</text><text class="l d r2" x="553" y="785">Limonene-1,2-diol</text></g>
<g id="d-e111297b"><rect class="ew" x="545" y="792" width="31" height="9"/><text class="et es" x="560.5" y="798.5" textLength="26" lengthAdjust="spacingAndGlyphs">1.1.1.297</text></g>
<g id="d-e1141380"><rect class="ew" x="653" y="720" width="32" height="8"/><text class="et es" x="669" y="726" textLength="27" lengthAdjust="spacingAndGlyphs">1.14.13.80</text></g>
<g id="d-ptcarveol"><circle class="k2" cx="668" cy="744" r="3"/><text class="l d r2" x="662" y="747">(+)-trans-Carveol</text></g>
<g id="d-e111275"><rect class="en" x="653" y="756" width="32" height="9"/><text class="et es" x="669" y="762.5" textLength="26" lengthAdjust="spacingAndGlyphs">1.1.1.275</text></g>
<g id="d-4scarvone"><circle class="r2c" cx="668" cy="781" r="3"/><text class="l d r2" x="662" y="784">(4S)-Carvone</text></g>
<g id="d-e423119"><rect class="en" x="813" y="669" width="30" height="11"/><text class="et es" x="828" y="676.5" textLength="26" lengthAdjust="spacingAndGlyphs">4.2.3.119</text></g>
<g id="d-apinene"><circle class="k2" cx="825" cy="708" r="3"/><text class="l d" x="832" y="704">α-Pinene</text></g>
<g id="d-e114"><rect class="en" x="727" y="720" width="32" height="8"/><text class="et es" x="743" y="726">1.14.-.-</text></g>
<g id="d-myrtenol"><circle class="k2" cx="743" cy="744" r="3"/><text class="l d r2" x="738" y="747">Myrtenol</text></g>
<g id="d-e11a"><rect class="ew" x="727" y="756" width="32" height="9"/><text class="et es" x="743" y="762.5">1.1.-.-</text></g>
<g id="d-myrtenal"><circle class="r2c" cx="743" cy="781" r="3"/><text class="l d r2" x="738" y="784">Myrtenal</text></g>
<g id="d-e12"><rect class="ew" x="727" y="795" width="32" height="9"/><text class="et es" x="743" y="801.5">1.2.-.-</text></g>
<g id="d-myrtenicacid"><circle class="k2" cx="743" cy="819" r="3"/><text class="l d m" x="743" y="829">Myrtenic acid</text></g>
<g id="d-pinocarveol"><circle class="k2" cx="825" cy="731" r="3"/><text class="l d" x="830" y="734">Pinocarveol</text></g>
<g id="d-e11b"><rect class="ew" x="813" y="743" width="30" height="9"/><text class="et es" x="828" y="749.5">1.1.-.-</text></g>
<g id="d-pinocarvone"><circle class="r2c" cx="825" cy="768" r="3"/><text class="l d m" x="828" y="778">Pinocarvone</text></g>
<g id="d-e423120"><rect class="en" x="887" y="666" width="30" height="10"/><text class="et es" x="902" y="673" textLength="26" lengthAdjust="spacingAndGlyphs">4.2.3.120</text></g>
<g id="d-bpinene"><circle class="k2" cx="900" cy="692" r="3"/><text class="l d m" x="902" y="703">(-)-β-Pinene</text></g>

<!-- ============ PANEL E NODES ============ -->
<g id="e-map-phenylpropanoid"><rect class="map2" x="1262" y="596" width="63" height="21" rx="8"/><text class="l e m" x="1293" y="605">Phenylpropanoid</text><text class="l e m" x="1290" y="612">biosynthesis</text></g>
<g id="e-cinnamoylcoa"><circle class="k2" cx="1346" cy="605" r="3"/><text class="l e" x="1325" y="598">Cinnamoyl-CoA</text></g>
<g id="e-e23174a"><rect class="en" x="1375" y="601" width="28" height="10"/><text class="et es" x="1389" y="608">2.3.1.74</text></g>
<g id="e-pinochalcone"><circle class="k2" cx="1434" cy="605" r="3"/><text class="l e" x="1417" y="598">Pinocembrin chalcone</text></g>
<g id="e-e5516"><rect class="en" x="1518" y="601" width="29" height="10"/><text class="et es" x="1532.5" y="608">5.5.1.6</text></g>
<g id="e-pinocembrin"><circle class="k2" cx="1622" cy="605" r="3"/><text class="l e" x="1604" y="598">Pinocembrin</text></g>
<g id="e-pinobanksin"><circle class="r2c" cx="1667" cy="605" r="3"/><text class="l e" x="1674" y="608">Pinobanksin 3-acetate</text></g>
<g id="e-e1141122"><rect class="en" x="1595" y="614" width="28" height="9"/><text class="et es" x="1609" y="620.5" textLength="25" lengthAdjust="spacingAndGlyphs">1.14.11.22</text></g>
<g id="e-chrysin"><circle class="r2c" cx="1620" cy="638" r="3"/><text class="l e" x="1625" y="641">Chrysin</text></g>
<g id="e-e1141311"><rect class="en" x="1332" y="627" width="28" height="9"/><text class="et es" x="1346" y="633.5" textLength="25" lengthAdjust="spacingAndGlyphs">1.14.13.11</text></g>
<g id="e-e231170"><rect class="en" x="1375" y="649" width="28" height="9"/><text class="et es" x="1389" y="655.5" textLength="24" lengthAdjust="spacingAndGlyphs">2.3.1.170</text></g>
<g id="e-isoliquiritigenin"><circle class="k2" cx="1434" cy="654" r="3"/><text class="l e" x="1437" y="664">Isoliquiritigenin</text></g>
<g id="e-liquiritigenin"><circle class="k2" cx="1573" cy="653" r="3"/><text class="l e" x="1578" y="664">Liquiritigenin</text></g>
<g id="e-map-isoflav1"><rect class="map2" x="1667" y="647" width="88" height="14" rx="7"/><text class="l e m" x="1711" y="656.5">Isoflavonoid biosynthesis</text></g>
<g id="e-butein"><circle class="k2" cx="1434" cy="702" r="3"/><text class="l e m" x="1435" y="714">Butein</text></g>
<g id="e-e1141321"><rect class="en" x="1560" y="677" width="28" height="10"/><text class="et es" x="1574" y="684" textLength="25" lengthAdjust="spacingAndGlyphs">1.14.13.21</text></g>
<g id="e-butin"><circle class="k2" cx="1573" cy="702" r="3"/><text class="l e m" x="1573" y="714">Butin</text></g>
<g id="e-74dhf"><circle class="r2c" cx="1547" cy="725" r="3"/><text class="l e" x="1555" y="726">7,4'-Dihydroxy-</text><text class="l e" x="1555" y="732">flavone</text></g>
<g id="e-dihydrofisetin"><circle class="r2c" cx="1642" cy="702" r="3"/><text class="l e m" x="1644" y="714">Dihydrofisetin</text></g>
<g id="e-e111219"><rect class="en" x="1666" y="691" width="29" height="9"/><text class="et es" x="1680.5" y="697.5" textLength="25" lengthAdjust="spacingAndGlyphs">1.1.1.219</text></g>
<g id="e-5dlc"><circle class="k2" cx="1721" cy="702" r="3"/><text class="l e" x="1727" y="705">5-Deoxyleucocyanidin</text></g>
<g id="e-map-isoflav2"><rect class="map2" x="1481" y="749" width="88" height="15" rx="7"/><text class="l e m" x="1525" y="759">Isoflavonoid biosynthesis</text></g>
<g id="e-naringenin"><circle class="k2" cx="1523" cy="786" r="3"/><text class="l e" x="1528" y="780">Naringenin</text></g>
<g id="e-dihydrokaempferol"><circle class="r2c" cx="1664" cy="786" r="3"/><text class="l e m" x="1654" y="802">Dihydrokaempferol</text></g>
<g id="e-map-flavone1"><rect class="map2" x="1687" y="780" width="112" height="16" rx="8"/><text class="l e m" x="1743" y="790.5">Flavone and flavonol biosynthesis</text></g>
<g id="e-map-flavone2"><rect class="map2" x="1553" y="804" width="75" height="21" rx="8"/><text class="l e" x="1560" y="813">Flavone and flavonol</text><text class="l e" x="1560" y="821">biosynthesis</text></g>
<g id="e-eriodictyol"><circle class="r2c" cx="1519" cy="836" r="3"/><text class="l e m" x="1527" y="848">Eriodictyol</text></g>
<g id="e-pcoumaroylcoa"><circle class="k2" cx="1348" cy="786" r="3"/><text class="l e" x="1322" y="799">p-Coumaroyl-CoA</text></g>
<g id="e-caffeoylcoa"><circle class="k2" cx="1348" cy="836" r="3"/><text class="l e r2" x="1344" y="847">Caffeoyl-CoA</text></g>
<g id="e-e23174b"><rect class="en" x="1389" y="832" width="28" height="9"/><text class="et es" x="1403" y="838.5">2.3.1.74</text></g>
<g id="e-pentahydroxychalcone"><circle class="r2c" cx="1434" cy="836" r="3"/><text class="l e" x="1378" y="820">2',3,4,4',6'-Pentahydroxychalcone</text></g>
</svg>
